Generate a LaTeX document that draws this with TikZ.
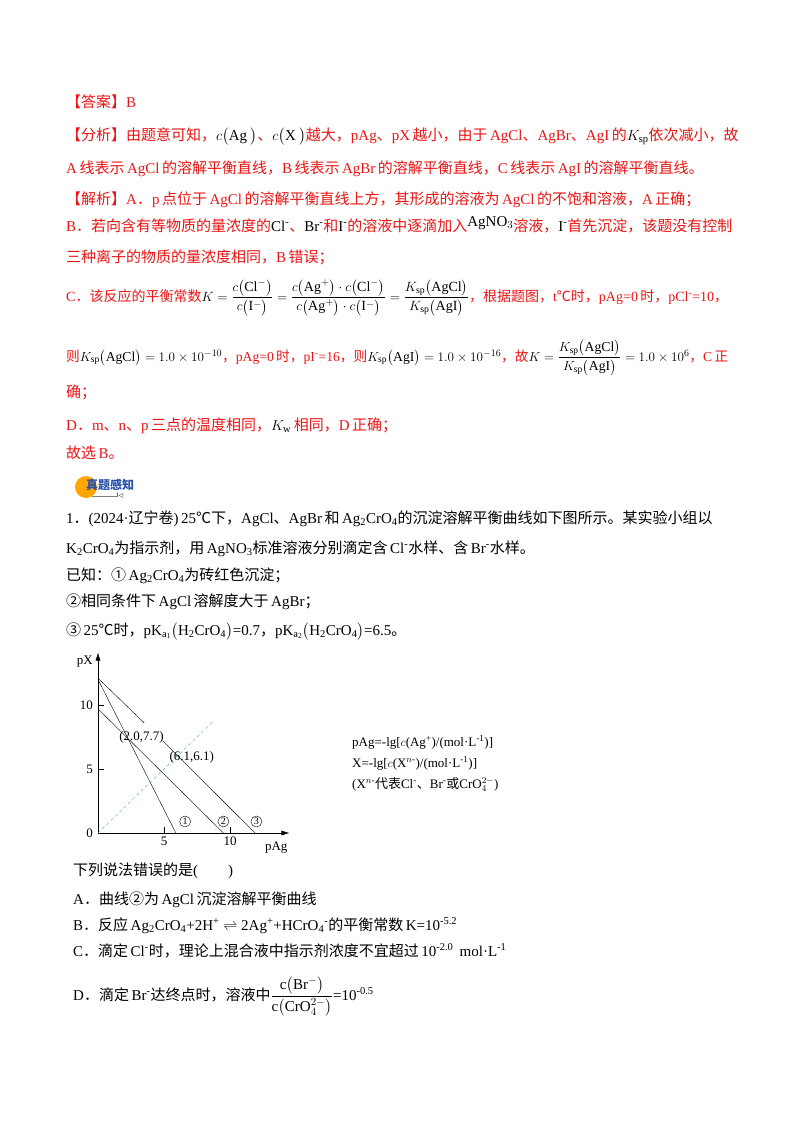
\documentclass[tikz,border=0pt]{standalone}
\usepackage{fontspec}
\usepackage{amsmath}
\usetikzlibrary{arrows.meta}
\setmainfont{Liberation Serif}
\newfontfamily\cjk{Noto Sans CJK SC}
\newfontfamily\dejavu{DejaVu Sans}
\definecolor{ansred}{RGB}{235,20,20}
\definecolor{dblue}{RGB}{60,170,230}
\definecolor{ttlblue}{RGB}{40,80,170}
\newcommand{\zh}[1]{{\cjk #1}}
\begin{document}
\begin{tikzpicture}[x=1pt,y=-1pt,
  txt/.style={anchor=base west,inner sep=0pt,font=\fontsize{15}{17}\selectfont},
  rtxt/.style={txt,text=ansred},
  tk/.style={font=\fontsize{13}{15}\selectfont,inner sep=1pt},
  cn/.style={circle,draw,inner sep=0pt,minimum size=11pt,font=\fontsize{10}{10}\selectfont},
  ax/.style={-{Latex[length=8pt,width=5pt]}}]
\useasboundingbox (0,0) rectangle (800,1132);
% answer section
\node[rtxt] (a1) at (66,107) {\zh{【答案】}B};
\node[rtxt] (a2) at (66,140) {\zh{【分析】由题意可知，}\textcolor{black}{$c\big(\mathrm{Ag}^{\;}\big)$}\zh{、}\textcolor{black}{$c\big(\mathrm{X}^{\;}\big)$}\zh{越大，}pAg\zh{、}pX\,\zh{越小，由于}\,AgCl\zh{、}AgBr\zh{、}AgI\,\zh{的}\textcolor{black}{$K_{\mathrm{sp}}$}\zh{依次减小，故}};
\node[rtxt] (a3) at (66,173) {A\,\zh{线表示}\,AgCl\,\zh{的溶解平衡直线，}B\,\zh{线表示}\,AgBr\,\zh{的溶解平衡直线，}C\,\zh{线表示}\,AgI\,\zh{的溶解平衡直线。}};
\node[rtxt] (a4) at (66,204) {\zh{【解析】}A\zh{．}p\,\zh{点位于}\,AgCl\,\zh{的溶解平衡直线上方，其形成的溶液为}\,AgCl\,\zh{的不饱和溶液，}A\,\zh{正确；}};
\node[rtxt] (a5) at (66,231) {B\zh{．若向含有等物质的量浓度的}\textcolor{black}{Cl\textsuperscript{-}}\zh{、}\textcolor{black}{Br\textsuperscript{-}}\zh{和}\textcolor{black}{I\textsuperscript{-}}\zh{的溶液中逐滴加入}\textcolor{black}{\raisebox{5pt}{AgNO$_3$}}\zh{溶液，}\textcolor{black}{I\textsuperscript{-}}\zh{首先沉淀，该题没有控制}};
\node[rtxt] (a6) at (66,262) {\zh{三种离子的物质的量浓度相同，}B\,\zh{错误；}};
\node[rtxt] (a7) at (66,301) {\resizebox{662pt}{!}{C\zh{．该反应的平衡常数}\textcolor{black}{$K=\dfrac{c\big(\mathrm{Cl}^-\big)}{c\big(\mathrm{I}^-\big)}=\dfrac{c\big(\mathrm{Ag}^+\big)\cdot c\big(\mathrm{Cl}^-\big)}{c\big(\mathrm{Ag}^+\big)\cdot c\big(\mathrm{I}^-\big)}=\dfrac{K_{\mathrm{sp}}\big(\mathrm{AgCl}\big)}{K_{\mathrm{sp}}\big(\mathrm{AgI}\big)}$}\zh{，根据题图，}t\zh{℃时，}pAg=0\,\zh{时，}pCl\textsuperscript{-}=10\zh{，}}};
\node[rtxt] (a8) at (66,361) {\resizebox{662pt}{!}{\zh{则}\textcolor{black}{$K_{\mathrm{sp}}\big(\mathrm{AgCl}\big)=1.0\times10^{-10}$}\zh{，}pAg=0\,\zh{时，}pI\textsuperscript{-}=16\zh{，则}\textcolor{black}{$K_{\mathrm{sp}}\big(\mathrm{AgI}\big)=1.0\times10^{-16}$}\zh{，故}\textcolor{black}{$K=\dfrac{K_{\mathrm{sp}}\big(\mathrm{AgCl}\big)}{K_{\mathrm{sp}}\big(\mathrm{AgI}\big)}=1.0\times10^{6}$}\zh{，}C\,\zh{正}}};
\node[rtxt] (a9) at (66,397) {\zh{确；}};
\node[rtxt] (a10) at (66,430) {D\zh{．}m\zh{、}n\zh{、}p\,\zh{三点的温度相同，}\textcolor{black}{$K_{\mathrm{w}}$}\,\zh{相同，}D\,\zh{正确；}};
\node[rtxt] (a11) at (66,458) {\zh{故选}\,B\zh{。}};
% header icon
\fill[orange!70!yellow] (86,487) circle (11);
\node[anchor=west,inner sep=0pt,font=\fontsize{12}{14}\selectfont\bfseries,text=ttlblue] (hd) at (86,485) {\zh{真题感知}};
\draw[gray] (92,496) -- (117,496);
\node[inner sep=0pt,font=\fontsize{6}{7}\selectfont\dejavu] (hd2) at (120,496) {I◁};
% question
\node[txt] (q1) at (66,523) {1\zh{．}(2024·\zh{辽宁卷})\,25\zh{℃下，}AgCl\zh{、}AgBr\,\zh{和}\,Ag\textsubscript{2}CrO\textsubscript{4}\zh{的沉淀溶解平衡曲线如下图所示。某实验小组以}};
\node[txt] (q2) at (66,553) {K\textsubscript{2}CrO\textsubscript{4}\zh{为指示剂，用}\,AgNO\textsubscript{3}\zh{标准溶液分别滴定含}\,Cl\textsuperscript{-}\zh{水样、含}\,Br\textsuperscript{-}\zh{水样。}};
\node[txt] (q3) at (66,580) {\zh{已知：①}\,Ag\textsubscript{2}CrO\textsubscript{4}\zh{为砖红色沉淀；}};
\node[txt] (q4) at (66,606) {\zh{②相同条件下}\,AgCl\,\zh{溶解度大于}\,AgBr\zh{；}};
\node[txt] (q5) at (66,635) {\zh{③}\,25\zh{℃时，}$\mathrm{pK_{a_1}}\big(\mathrm{H_2CrO_4}\big)$=0.7\zh{，}$\mathrm{pK_{a_2}}\big(\mathrm{H_2CrO_4}\big)$=6.5\zh{。}};
% graph
\begin{scope}[shift={(98,833)},x=13.2pt,y=12.8pt]
\coordinate (O) at (0,0);
\coordinate (xe) at (14.5,0);
\coordinate (ye) at (0,14.1);
\draw[ax] (O) -- (xe);
\draw[ax] (O) -- (ye);
\foreach \v in {5,10} {\draw (\v,0) -- (\v,0.45); \draw (0,\v) -- (0.45,\v);}
\node[tk,anchor=east] (l0) at (-0.3,0) {0};
\node[tk,anchor=east] (l5y) at (-0.3,5) {5};
\node[tk,anchor=east] (l10y) at (-0.3,10) {10};
\node[tk,anchor=north] (l5x) at (5,-0.2) {5};
\node[tk,anchor=north] (l10x) at (10,-0.2) {10};
\node[tk,anchor=east] (py) at (-0.3,13.4) {pX};
\node[tk,anchor=north] (px) at (13.5,-0.6) {pAg};
\draw[dblue,dashed] (O) -- (8.7,8.7);
\coordinate (c1a) at (0,12); \coordinate (c1b) at (5.9,0);
\coordinate (c2a) at (0,9.7); \coordinate (c2b) at (9.5,0);
\coordinate (c3a) at (0,12.1); \coordinate (c3m) at (3.5,8.6);
\coordinate (c3n) at (4.9,7.2); \coordinate (c3b) at (11.9,0);
\draw (c1a) -- (c1b);
\draw (c2a) -- (c2b);
\draw (c3a) -- (c3m);
\draw (c3n) -- (c3b);
\node[tk] (p1) at (3.3,7.5) {(2.0,7.7)};
\node[tk] (p2) at (7.1,5.9) {(6.1,6.1)};
\node[cn] (n1) at (6.6,0.9) {1};
\node[cn] (n2) at (9.5,0.9) {2};
\node[cn] (n3) at (12.0,0.9) {3};
\end{scope}
\node[anchor=base west,inner sep=0pt,font=\fontsize{13}{15}\selectfont] (d1) at (352,746) {pAg=-lg[$c$(Ag\textsuperscript{+})/(mol·L\textsuperscript{-1})]};
\node[anchor=base west,inner sep=0pt,font=\fontsize{13}{15}\selectfont] (d2) at (352,767) {X=-lg[$c$(X\textsuperscript{$n$-})/(mol·L\textsuperscript{-1})]};
\node[anchor=base west,inner sep=0pt,font=\fontsize{13}{15}\selectfont] (d3) at (352,788) {(X\textsuperscript{$n$-}\zh{代表}Cl\textsuperscript{-}\zh{、}Br\textsuperscript{-}\zh{或}CrO$_4^{2-}$)};
% options
\node[txt] (o0) at (73,875) {\zh{下列说法错误的是}(\qquad)};
\node[txt] (o1) at (73,904) {A\zh{．曲线②为}\,AgCl\,\zh{沉淀溶解平衡曲线}};
\node[txt] (o2) at (73,930) {B\zh{．反应}\,Ag\textsubscript{2}CrO\textsubscript{4}+2H\textsuperscript{+} $\rightleftharpoons$ 2Ag\textsuperscript{+}+HCrO\textsubscript{4}\textsuperscript{-}\zh{的平衡常数}\,K=10\textsuperscript{-5.2}};
\node[txt] (o3) at (73,956) {C\zh{．滴定}\,Cl\textsuperscript{-}\zh{时，理论上混合液中指示剂浓度不宜超过}\,10\textsuperscript{-2.0}\, mol·L\textsuperscript{-1}};
\node[txt] (o4) at (73,1000) {D\zh{．滴定}\,Br\textsuperscript{-}\zh{达终点时，溶液中}$\dfrac{\mathrm{c}\big(\mathrm{Br}^-\big)}{\mathrm{c}\big(\mathrm{CrO}_4^{2-}\big)}$=10\textsuperscript{-0.5}};
\end{tikzpicture}
\end{document}
